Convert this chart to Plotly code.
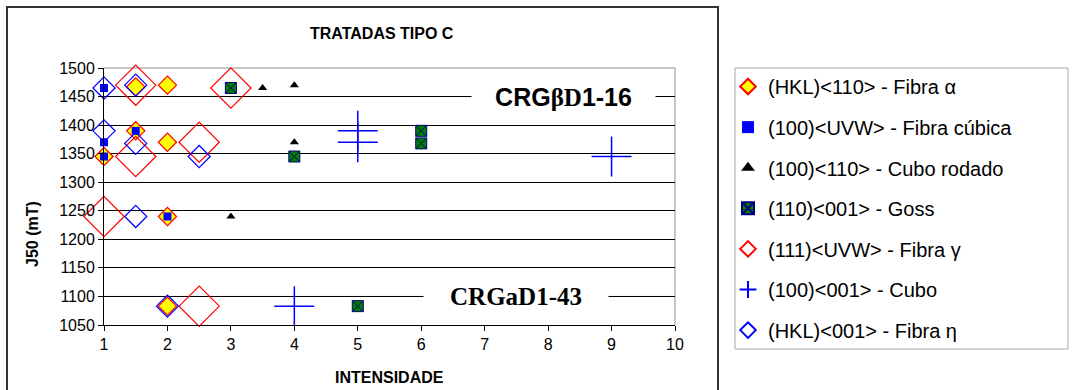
import plotly.graph_objects as go

# ---- data ----
alpha_x = [1, 1.5, 2, 1.5, 2, 2, 2]
alpha_y = [1345, 1467, 1470, 1390, 1370, 1240, 1083]

cubic_x = [1, 1, 1, 1.5, 2]
cubic_y = [1465, 1370, 1345, 1390, 1240]

rot_x = [3.5, 4, 4, 3]
rot_y = [1465, 1470, 1370, 1240]

goss_x = [3, 4, 6, 6, 5]
goss_y = [1465, 1345, 1390, 1368, 1083]

gamma_x = [1.5, 3, 2.5, 1.5, 1, 2.5]
gamma_y = [1470, 1465, 1370, 1345, 1240, 1083]

cube_x = [5, 5, 9, 4]
cube_y = [1390, 1370, 1345, 1083]

eta_x = [1, 1.5, 1, 1.5, 2.5, 1.5, 2]
eta_y = [1465, 1470, 1390, 1368, 1345, 1240, 1083]

names = [
    "(HKL)<110> - Fibra α",
    "(100)<UVW> - Fibra cúbica",
    "(100)<110> - Cubo rodado",
    "(110)<001> - Goss",
    "(111)<UVW> - Fibra γ",
    "(100)<001> - Cubo",
    "(HKL)<001> - Fibra η",
]

FONT = "Arial, 'Liberation Sans', sans-serif"

fig = go.Figure()

fig.add_trace(go.Scatter(x=alpha_x, y=alpha_y, mode="markers", name=names[0], legendgroup="g1",
                         marker=dict(symbol="diamond", size=14, color="#FFFF00",
                                     line=dict(color="#FF0000", width=1.2)), cliponaxis=False))
fig.add_trace(go.Scatter(x=cubic_x, y=cubic_y, mode="markers", name=names[1], legendgroup="g2",
                         marker=dict(symbol="square", size=8, color="#0000FF",
                                     line=dict(width=0)), cliponaxis=False))
fig.add_trace(go.Scatter(x=rot_x, y=rot_y, mode="markers", name=names[2], legendgroup="g3",
                         marker=dict(symbol="triangle-up", size=8, color="#000000",
                                     line=dict(width=0)), cliponaxis=False))
fig.add_trace(go.Scatter(x=goss_x, y=goss_y, mode="markers", name=names[3], legendgroup="g4",
                         marker=dict(symbol="square-x", size=11, color="#008000",
                                     line=dict(color="#000080", width=1)), cliponaxis=False))
fig.add_trace(go.Scatter(x=gamma_x, y=gamma_y, mode="markers", name=names[4], legendgroup="g5",
                         legend="legend2",
                         marker=dict(symbol="diamond-open", size=31, color="#FF0000",
                                     line=dict(width=1.2)), cliponaxis=False))
fig.add_trace(go.Scatter(x=cube_x, y=cube_y, mode="markers", name=names[5], legendgroup="g6",
                         legend="legend2",
                         marker=dict(symbol="cross-thin-open", size=28.5, color="#0000FF",
                                     line=dict(width=1.5)), cliponaxis=False))
fig.add_trace(go.Scatter(x=eta_x, y=eta_y, mode="markers", name=names[6], legendgroup="g7",
                         legend="legend2",
                         marker=dict(symbol="diamond-open", size=17, color="#0000FF",
                                     line=dict(width=1.2)), cliponaxis=False))

W, H = 1076, 390
L, R, T, B = 104, 675, 68, 325


def px(xp):
    return (xp - L) / (R - L)


def py(yp):
    return (B - yp) / (B - T)


shapes = [
    # outer chart frame
    dict(type="rect", xref="paper", yref="paper", x0=px(7), x1=px(718), y0=py(400), y1=py(7),
         line=dict(color="#333333", width=2), layer="below"),
    # plot area top/right border (gray)
    dict(type="line", xref="paper", yref="paper", x0=0, x1=1, y0=1, y1=1,
         line=dict(color="#909090", width=1), layer="between"),
    dict(type="line", xref="paper", yref="paper", x0=1, x1=1, y0=0, y1=1,
         line=dict(color="#909090", width=1), layer="between"),
    # label leader lines
    dict(type="line", xref="paper", yref="y", x0=0, x1=1, y0=1450, y1=1450,
         line=dict(color="#808080", width=1), layer="between"),
    dict(type="line", xref="paper", yref="y", x0=0, x1=1, y0=1100, y1=1100,
         line=dict(color="#808080", width=1), layer="between"),
    # legend frame
    dict(type="rect", xref="paper", yref="paper", x0=px(735), x1=px(1068), y0=py(349), y1=py(68),
         line=dict(color="#A8A8A8", width=1), fillcolor="white", layer="below"),
]

annotations = [
    dict(text="<b>TRATADAS TIPO C</b>", xref="paper", yref="paper", x=px(382), y=py(33.5),
         showarrow=False, xanchor="center", yanchor="middle", font=dict(family=FONT, size=16, color="black")),
    dict(text="<b>INTENSIDADE</b>", xref="paper", yref="paper", x=px(389), y=py(377),
         showarrow=False, xanchor="center", yanchor="middle", font=dict(family=FONT, size=16, color="black")),
    dict(text="<b>J50 (mT)</b>", xref="paper", yref="paper", x=px(33), y=py(234), textangle=-90,
         showarrow=False, xanchor="center", yanchor="middle", font=dict(family=FONT, size=16, color="black")),
    dict(text="<b>CRG<span style='font-family:\"Liberation Serif\", \"Times New Roman\", serif'>βD</span>1-16</b>",
         xref="paper", yref="y", x=px(563), y=1450, width=181, borderpad=1, bgcolor="white",
         showarrow=False, xanchor="center", yanchor="middle", align="center",
         font=dict(family=FONT, size=25, color="black")),
    dict(text="<b>CRGaD1-43</b>",
         xref="paper", yref="y", x=px(516), y=1100, width=182, borderpad=1, bgcolor="white",
         showarrow=False, xanchor="center", yanchor="middle", align="center",
         font=dict(family="'Liberation Serif', 'Times New Roman', serif", size=25, color="black")),
]

leg_common = dict(xref="container", yref="container", xanchor="left", yanchor="top", borderwidth=0,
                  bgcolor="rgba(0,0,0,0)", font=dict(family=FONT, size=20, color="black"),
                  itemsizing="constant", traceorder="grouped", tracegroupgap=11.6)

fig.update_layout(
    width=W, height=H,
    margin=dict(l=L, r=W - R, t=T, b=H - B, pad=0, autoexpand=False),
    paper_bgcolor="white", plot_bgcolor="white",
    font=dict(family=FONT, size=16, color="black"),
    showlegend=True,
    legend=dict(x=728 / W, y=1 - 67 / H, **leg_common),
    legend2=dict(x=728 / W, y=1 - (67 + 4 * 40.6) / H, **leg_common),
    shapes=shapes,
    annotations=annotations,
    xaxis=dict(range=[1, 10], tick0=1, dtick=1, showgrid=False, zeroline=False,
               showline=True, linecolor="black", linewidth=1, automargin=False,
               ticks="outside", ticklen=5, tickcolor="black",
               tickfont=dict(family=FONT, size=16, color="black")),
    yaxis=dict(range=[1050, 1500], tick0=1050, dtick=50, showgrid=True, gridcolor="black", gridwidth=1,
               zeroline=False, showline=True, linecolor="black", linewidth=1, automargin=False,
               ticks="outside", ticklen=5, tickcolor="black",
               tickfont=dict(family=FONT, size=16, color="black")),
)

fig.write_html("out.html", config={"displayModeBar": False},
               post_script="document.body.style.margin='0px';")
